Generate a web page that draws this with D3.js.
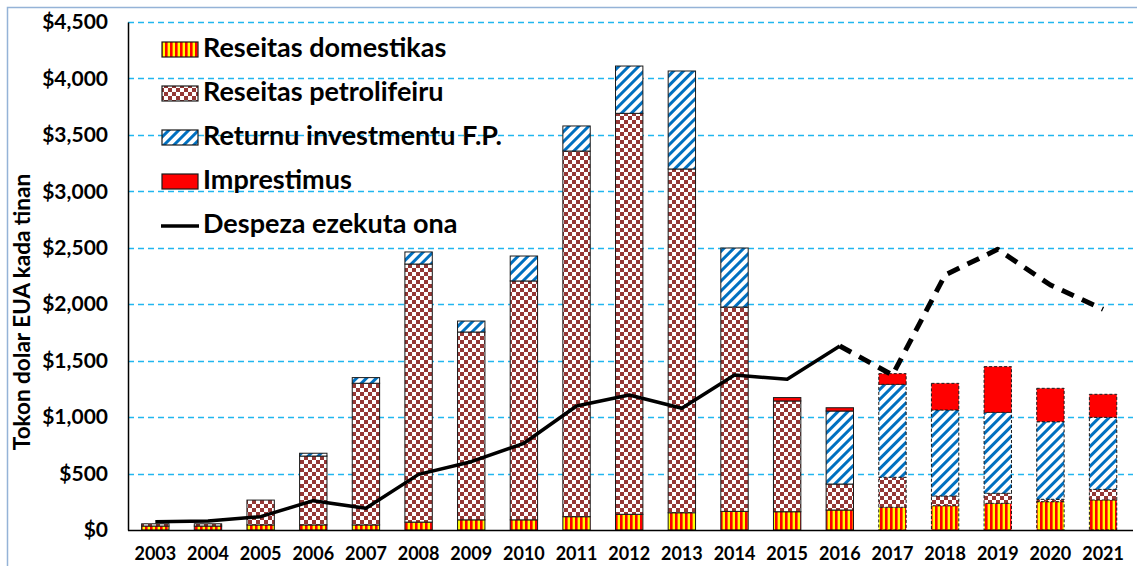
<!DOCTYPE html>
<html>
<head>
<meta charset="utf-8">
<script src="https://cdn.jsdelivr.net/npm/d3@7"></script>
<style>
  html, body { margin: 0; padding: 0; background: #fff; }
  svg { display: block; font-family: Lato, "Open Sans", sans-serif; }
</style>
</head>
<body>
<svg id="chart" width="1137" height="566"></svg>
<script>
// ---- data ----
const years = ["2003","2004","2005","2006","2007","2008","2009","2010","2011","2012","2013","2014","2015","2016","2017","2018","2019","2020","2021"];
const domestic  = [35, 35, 45, 45, 45, 70, 90, 90, 118, 139, 153, 165, 162, 177, 201, 215, 236, 251, 266];
const petroleum = [20, 20, 220, 610, 1255, 2286, 1664, 2116, 3239, 3552, 3045, 1810, 981, 230, 266, 86, 89, 21, 94];
const returns   = [0, 0, 0, 25, 50, 107, 97, 221, 222, 419, 868, 523, 0, 647, 823, 762, 717, 687, 638];
const loans     = [0, 0, 0, 0, 0, 0, 0, 0, 0, 0, 0, 0, 30, 29, 95, 236, 405, 296, 204];
const spending  = [73, 80, 118, 260, 192, 493, 605, 768, 1098, 1196, 1078, 1373, 1335, 1630, 1373, 2259, 2486, 2170, 1955];
const yTicks = [0, 500, 1000, 1500, 2000, 2500, 3000, 3500, 4000, 4500];
const seriesNames = ["Reseitas domestikas", "Reseitas petrolifeiru", "Returnu investmentu F.P.", "Imprestimus"];
const lineName = "Despeza ezekuta ona";
const lastActualYear = "2016";

// ---- setup ----
const svg = d3.select("#chart");
const defs = svg.append("defs");
const FONT = "Lato, sans-serif";

// patterns
const pDom = defs.append("pattern").attr("id", "pDom").attr("patternUnits", "userSpaceOnUse")
  .attr("width", 5).attr("height", 10);
pDom.append("rect").attr("width", 5).attr("height", 10).attr("fill", "#ffff00");
pDom.append("rect").attr("width", 2.6).attr("height", 10).attr("fill", "#ff0000");

const pPet = defs.append("pattern").attr("id", "pPet").attr("patternUnits", "userSpaceOnUse")
  .attr("width", 8).attr("height", 8);
pPet.append("rect").attr("width", 8).attr("height", 8).attr("fill", "#ffffff");
pPet.append("rect").attr("width", 4).attr("height", 4).attr("fill", "#953735");
pPet.append("rect").attr("x", 4).attr("y", 4).attr("width", 4).attr("height", 4).attr("fill", "#953735");

const pRet = defs.append("pattern").attr("id", "pRet").attr("patternUnits", "userSpaceOnUse")
  .attr("width", 7).attr("height", 7).attr("patternTransform", "rotate(45)");
pRet.append("rect").attr("width", 7).attr("height", 7).attr("fill", "#ffffff");
pRet.append("rect").attr("width", 3).attr("height", 7).attr("fill", "#0070c0");

const fills = ["url(#pDom)", "url(#pPet)", "url(#pRet)", "#ff0000"];

// outer frame
svg.append("path").attr("d", "M7.5,566 V7.5 H1137").attr("fill", "none")
  .attr("stroke", "#95b3d7").attr("stroke-width", 1.5);

// scales
const x = d3.scaleBand().domain(years).range([129, 1129.4]).paddingInner(0.48).paddingOuter(0.24);
const y = d3.scaleLinear().domain([0, 4500]).range([530, 22]);

// gridlines
svg.append("g").selectAll("line").data(yTicks.filter(d => d > 0)).join("line")
  .attr("x1", 128).attr("x2", 1133)
  .attr("y1", d => Math.round(y(d)) + 0.5).attr("y2", d => Math.round(y(d)) + 0.5)
  .attr("stroke", "#21b6ef").attr("stroke-width", 1.3).attr("stroke-dasharray", "6,4");

// stacked bars
const table = years.map((yr, i) => ({ year: yr, s0: domestic[i], s1: petroleum[i], s2: returns[i], s3: loans[i] }));
const stack = d3.stack().keys(["s0", "s1", "s2", "s3"])(table);
const projected = yr => +yr > +lastActualYear;

const gBars = svg.append("g");
stack.forEach((layer, k) => {
  gBars.append("g").selectAll("rect").data(layer.filter(d => d[1] - d[0] > 0)).join("rect")
    .attr("x", d => x(d.data.year))
    .attr("width", x.bandwidth())
    .attr("y", d => y(d[1]))
    .attr("height", d => y(d[0]) - y(d[1]))
    .attr("fill", fills[k])
    .attr("stroke", "#1a1a1a")
    .attr("stroke-width", 1)
    .attr("stroke-dasharray", d => projected(d.data.year) ? "3,2" : null);
});

// axes
const yAxis = svg.append("g").attr("transform", "translate(128,0)")
  .call(d3.axisLeft(y).tickValues(yTicks).tickFormat(d => "$" + d3.format(",")(d)).tickSize(0).tickSizeOuter(0).tickPadding(20));
yAxis.select(".domain").attr("stroke", "#000").attr("stroke-width", 1.5);
yAxis.selectAll("text").attr("font-size", 21).attr("font-weight", "bold").attr("fill", "#000")
  .attr("font-family", FONT);

const xAxis = svg.append("g").attr("transform", "translate(0,530)")
  .call(d3.axisBottom(x).tickSize(0).tickSizeOuter(0).tickPadding(17));
xAxis.select(".domain").remove();
xAxis.selectAll("text").attr("font-size", 18).attr("font-weight", "bold").attr("fill", "#000")
  .attr("font-family", FONT);
svg.append("line").attr("x1", 128).attr("x2", 1133).attr("y1", 530.5).attr("y2", 530.5)
  .attr("stroke", "#000").attr("stroke-width", 1.5);

// y axis title
svg.append("text").attr("transform", "translate(30,312) rotate(-90)")
  .attr("text-anchor", "middle").attr("font-size", 22.5).attr("font-weight", "bold")
  .attr("font-family", FONT).text("Tokon dolar EUA kada tinan");

// spending line
const pts = years.map((yr, i) => ({ year: yr, v: spending[i] }));
const idx = years.indexOf(lastActualYear);
const line = d3.line().x(d => x(d.year) + x.bandwidth() / 2).y(d => y(d.v));
svg.append("path").datum(pts.slice(0, idx + 1)).attr("d", line)
  .attr("fill", "none").attr("stroke", "#000").attr("stroke-width", 3.5).attr("stroke-linejoin", "round");
svg.append("path").datum(pts.slice(idx)).attr("d", line)
  .attr("fill", "none").attr("stroke", "#000").attr("stroke-width", 5)
  .attr("stroke-dasharray", "13,9").attr("stroke-linejoin", "round");

// legend
const legend = svg.append("g");
const rowY = [57, 101, 145, 189, 233];
seriesNames.forEach((name, i) => {
  legend.append("rect").attr("x", 162).attr("y", rowY[i] - 15).attr("width", 36).attr("height", 15)
    .attr("fill", fills[i]).attr("stroke", "#1a1a1a").attr("stroke-width", 1.2);
  legend.append("text").attr("x", 203).attr("y", rowY[i]).attr("font-size", 27)
    .attr("font-weight", "bold").attr("font-family", FONT).text(name);
});
legend.append("line").attr("x1", 161).attr("x2", 199).attr("y1", rowY[4] - 7).attr("y2", rowY[4] - 7)
  .attr("stroke", "#000").attr("stroke-width", 3.5);
legend.append("text").attr("x", 203).attr("y", rowY[4]).attr("font-size", 27)
  .attr("font-weight", "bold").attr("font-family", FONT).text(lineName);
</script>
</body>
</html>
